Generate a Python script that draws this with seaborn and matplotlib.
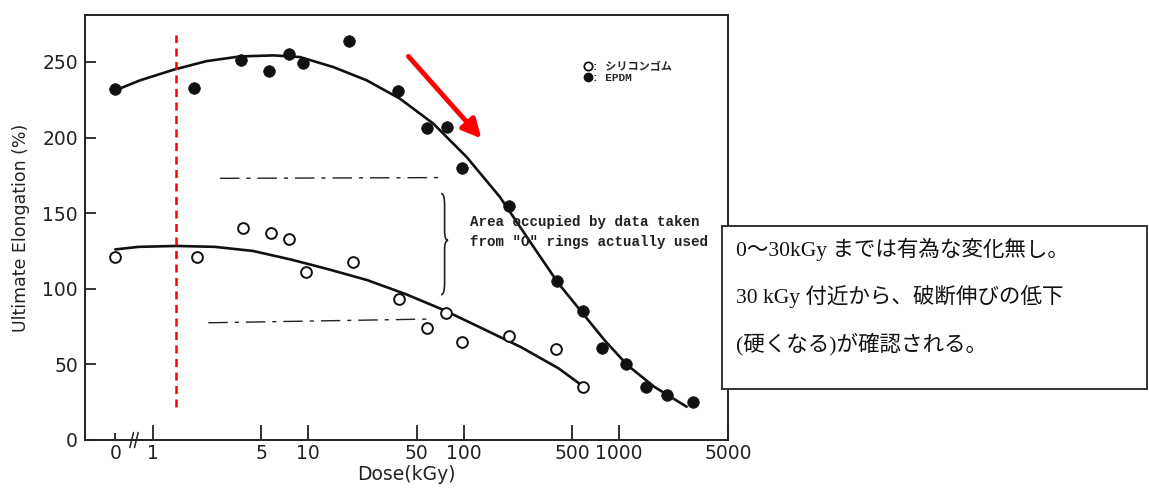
import numpy as np
import pandas as pd
import matplotlib
matplotlib.use("Agg")
import matplotlib.pyplot as plt
import seaborn as sns
from matplotlib.lines import Line2D
from matplotlib.patches import Rectangle, PathPatch
from matplotlib.path import Path
from matplotlib.font_manager import FontProperties

# ---- data ----
epdm_dose = [0, 1.84, 3.68, 5.6, 7.56, 9.3, 18.4, 38, 57.8, 78.5, 97, 195, 396, 582, 778, 1106, 1480, 2022, 2998]
epdm_elong = [232, 233, 251, 244, 255, 249, 264, 231, 206, 207, 180, 155, 105, 85, 61, 50, 35, 30, 25]

sil_dose = [0, 1.92, 3.83, 5.74, 7.53, 9.68, 19.5, 38.4, 58.3, 76.9, 97, 195, 391, 588]
sil_elong = [121, 121, 140, 137, 133, 111, 118, 93, 74, 84, 65, 69, 60, 35]

# hand-drawn trend curves
epdm_curve_dose = [0, 0.83, 1.36, 2.22, 3.64, 5.97, 8.85, 14.5, 23.8, 38.9, 63.8, 104.5,
                   171, 299, 407, 573, 805, 1130, 1680, 2716]
epdm_curve_val = [231.2, 237.8, 244.8, 250.5, 253.6, 254.3, 253.2, 246.6, 237.8, 225.7, 209.2, 187.1,
                  160.7, 123.7, 103.5, 84.7, 66, 49.5, 35.2, 22]

sil_curve_dose = [0, 0.81, 1.42, 2.51, 4.41, 7.76, 13.7, 24.0, 42.5, 74.6, 131.5, 231.7, 407.4, 560]
sil_curve_val = [126, 127.7, 128.3, 127.7, 125, 119.3, 112.7, 105.7, 96.4, 85.9, 73.8, 61.6, 47.4, 37]

tick_doses = [1, 5, 10, 50, 100, 500, 1000, 5000]
tick_labels = ["1", "5", "10", "50", "100", "500", "1000", "5000"]
y_ticks = [0, 50, 100, 150, 200, 250]

ZERO_POS = -0.24  # where dose 0 sits left of the axis break


def pos(d):
    d = np.asarray(d, dtype=float)
    out = np.full(d.shape, ZERO_POS)
    out[d > 0] = np.log10(d[d > 0])
    return out


pts = pd.concat([
    pd.DataFrame({"x": pos(epdm_dose), "y": epdm_elong, "grp": "EPDM"}),
    pd.DataFrame({"x": pos(sil_dose), "y": sil_elong, "grp": "Si"}),
])
curves = pd.concat([
    pd.DataFrame({"x": pos(epdm_curve_dose), "y": epdm_curve_val, "grp": "EPDM"}),
    pd.DataFrame({"x": pos(sil_curve_dose), "y": sil_curve_val, "grp": "Si"}),
])

sns.set_style("ticks")
plt.rcParams["font.family"] = ["DejaVu Sans"]

fig = plt.figure(figsize=(11.49, 4.92), dpi=100)
ax = fig.add_axes([0.074, 0.1057, 0.5596, 0.8638])

sns.lineplot(data=curves, x="x", y="y", units="grp", estimator=None, sort=False,
             color="#111111", lw=1.9, ax=ax, legend=False)
sns.scatterplot(data=pts[pts.grp == "EPDM"], x="x", y="y", ax=ax, s=70,
                color="#111111", edgecolor="#111111", linewidth=0.5, zorder=3, legend=False)
sns.scatterplot(data=pts[pts.grp == "Si"], x="x", y="y", ax=ax, s=60,
                facecolor="white", edgecolor="#111111", linewidth=1.4, zorder=3, legend=False)

ax.set_xlim(-0.435, 3.70)
ax.set_ylim(0, 281)

ax.set_xticks(np.log10(tick_doses))
ax.set_xticklabels(tick_labels)
ax.set_xticks([ZERO_POS], minor=True)
ax.set_xticklabels(["0"], minor=True)
ax.set_yticks(y_ticks)
ax.tick_params(axis="x", which="major", direction="in", length=11, width=1.3,
               labelsize=13.5, colors="#222222", pad=3)
ax.tick_params(axis="x", which="minor", direction="in", length=5, width=1.3,
               labelsize=13.5, colors="#222222", pad=3)
ax.tick_params(axis="y", direction="in", length=8, width=1.3, labelsize=13.5,
               colors="#222222", pad=5)
for sp in ax.spines.values():
    sp.set_color("#222222")
    sp.set_linewidth(1.4)

ax.set_xlabel("Dose(kGy)", fontsize=13.5, color="#222222", labelpad=1)
ax.set_ylabel("Ultimate Elongation (%)", fontsize=12.5, color="#222222", labelpad=9)

# axis break marks between 0 and 1
for bx in (-0.135, -0.105):
    ax.plot([bx - 0.012, bx + 0.012], [-5, 5], color="#222222", lw=1.1, clip_on=False, zorder=4)

# red dashed marker drawn on the scan
ax.plot([0.147, 0.147], [21.8, 267.5], color="red", lw=1.8, ls=(0, (3.2, 2.2)))

# red arrow
ax.annotate("", xy=(2.126, 198), xytext=(1.633, 255),
            arrowprops=dict(arrowstyle="-|>", color="red", lw=3.5, mutation_scale=28))

# dash-dot bands
ax.plot([0.433, 1.867], [173, 173.5], color="#222222", lw=1.0, ls=(0, (14, 5, 3, 5)))
ax.plot([0.358, 1.794], [77.5, 80], color="#222222", lw=1.0, ls=(0, (14, 5, 3, 5)))

# curly brace "}"
bx0, bw = 1.855, 0.045
yt, ym, yb = 163, 132, 96
verts = [(bx0, yt), (bx0 + bw * 0.5, yt), (bx0 + bw * 0.5, yt - 8),
         (bx0 + bw * 0.5, ym + 6),
         (bx0 + bw * 0.5, ym), (bx0 + bw, ym),
         (bx0 + bw * 0.5, ym), (bx0 + bw * 0.5, ym - 6),
         (bx0 + bw * 0.5, yb + 8),
         (bx0 + bw * 0.5, yb), (bx0, yb)]
codes = [Path.MOVETO, Path.CURVE3, Path.CURVE3, Path.LINETO, Path.CURVE3, Path.CURVE3,
         Path.CURVE3, Path.CURVE3, Path.LINETO, Path.CURVE3, Path.CURVE3]
ax.add_patch(PathPatch(Path(verts, codes), fill=False, lw=1.2, edgecolor="#222222"))

ax.text(2.04, 137.5, 'Area occupied by data taken\nfrom "O" rings actually used',
        family="Liberation Mono", fontsize=10.2, fontweight="bold", color="#222222",
        va="center", ha="left", linespacing=1.6)

# legend
handles = [Line2D([], [], ls="", marker="o", ms=6, mfc="white", mec="#111111", mew=1.3),
           Line2D([], [], ls="", marker="o", ms=6, mfc="#111111", mec="#111111")]
ax.legend(handles, [": シリコンゴム", ": EPDM"], loc="center left",
          bbox_to_anchor=(0.77, 0.865), frameon=False, handlelength=0.6,
          handletextpad=0.1, labelspacing=0.05, borderaxespad=0,
          prop=FontProperties(family=["Liberation Mono", "Noto Sans CJK JP"], size=8, weight="bold"))

# explanatory text box
fig.add_artist(Rectangle((0.6284, 0.2093), 0.3700, 0.3313, transform=fig.transFigure,
                         facecolor="white", edgecolor="#333333", lw=1.4, zorder=5))
jp = ["Liberation Serif", "Noto Sans CJK JP"]
lines = ["0～30kGy までは有為な変化無し。",
         "30 kGy 付近から、破断伸びの低下",
         "(硬くなる)が確認される。"]
for txt, yy in zip(lines, [0.493, 0.397, 0.300]):
    fig.text(0.6406, yy, txt, family=jp, fontsize=15.5, va="center", ha="left",
             color="#111111", zorder=6)

fig.savefig("out.png", dpi=100)
